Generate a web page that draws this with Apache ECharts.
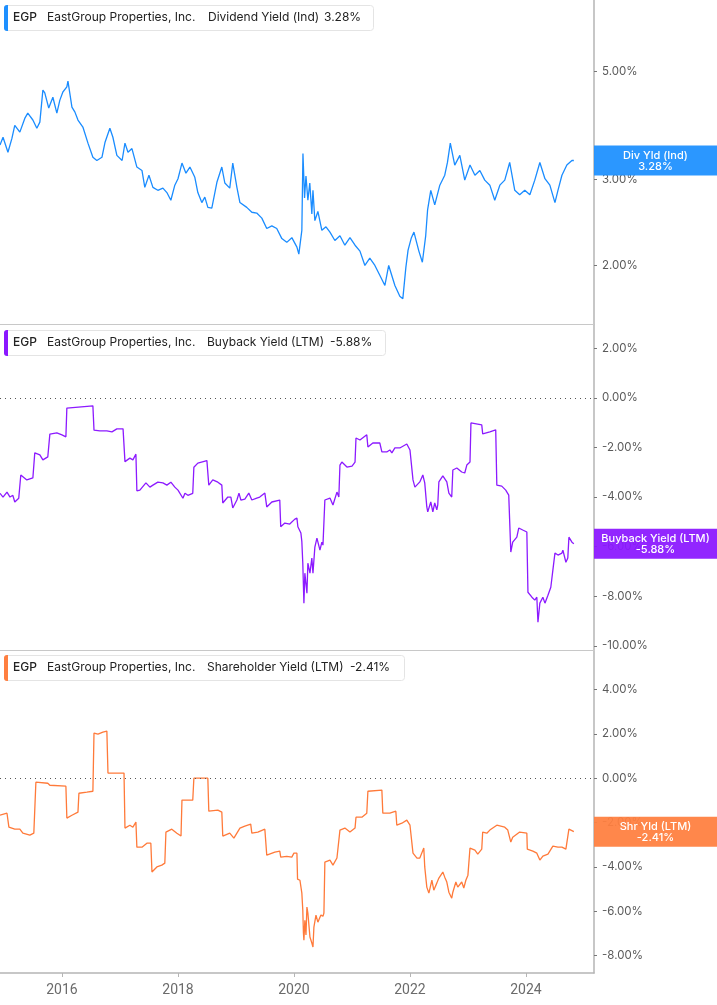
<!DOCTYPE html>
<html><head><meta charset="utf-8">
<script src="https://cdn.jsdelivr.net/npm/echarts@6/dist/echarts.min.js"></script>
<style>html,body{margin:0;padding:0;background:#fff}#c{width:717px;height:1005px}</style>
</head><body><div id="c"></div>
<script>
// ---------- DATA ----------
const divDates = ['2014-12-07','2014-12-26','2015-01-26','2015-02-20','2015-03-10','2015-04-11','2015-05-12','2015-05-31','2015-07-02','2015-07-27','2015-08-15','2015-09-03','2015-09-15','2015-10-10','2015-11-05','2015-11-30','2015-12-19','2016-01-07','2016-02-01','2016-02-08','2016-03-04','2016-03-23','2016-04-11','2016-05-12','2016-06-13','2016-07-14','2016-08-08','2016-09-09','2016-09-28','2016-10-29','2016-11-17','2016-12-12','2017-01-14','2017-02-01','2017-02-20','2017-03-17','2017-04-17','2017-05-19','2017-06-06','2017-07-02','2017-07-27','2017-08-27','2017-09-28','2017-10-23','2017-11-17','2017-12-12','2018-01-01','2018-01-26','2018-02-20','2018-03-17','2018-04-17','2018-05-06','2018-05-31','2018-06-19','2018-07-08','2018-08-02','2018-09-03','2018-10-04','2018-10-23','2018-11-23','2018-12-12','2019-01-07','2019-01-26','2019-03-10','2019-04-11','2019-05-12','2019-06-13','2019-07-14','2019-08-15','2019-09-15','2019-10-17','2019-11-17','2019-12-19','2020-01-20','2020-02-01','2020-02-20','2020-02-27','2020-03-08','2020-03-17','2020-03-29','2020-04-10','2020-04-23','2020-04-30','2020-05-12','2020-05-31','2020-06-25','2020-07-21','2020-08-15','2020-09-15','2020-10-17','2020-11-17','2020-12-19','2021-01-20','2021-02-20','2021-03-23','2021-04-23','2021-05-25','2021-06-25','2021-07-27','2021-08-20','2021-09-28','2021-10-29','2021-11-17','2021-12-06','2021-12-20','2022-01-10','2022-01-26','2022-02-26','2022-03-20','2022-04-10','2022-04-22','2022-05-12','2022-06-06','2022-07-08','2022-08-08','2022-08-25','2022-09-12','2022-10-10','2022-11-11','2022-12-12','2023-01-14','2023-02-14','2023-03-17','2023-04-17','2023-05-19','2023-06-19','2023-07-21','2023-08-21','2023-09-21','2023-10-23','2023-11-23','2023-12-25','2024-01-26','2024-02-26','2024-03-29','2024-04-30','2024-05-31','2024-07-02','2024-07-21','2024-08-15','2024-09-15','2024-10-17','2024-10-29'];
const divValues = [3.53,3.66,3.41,3.64,3.87,3.75,4.00,4.10,3.97,3.82,3.93,4.57,4.51,4.20,4.42,4.10,4.36,4.53,4.64,4.77,4.22,4.12,3.97,3.84,3.56,3.33,3.28,3.33,3.57,3.82,3.66,3.36,3.28,3.56,3.41,3.47,3.18,3.13,2.89,3.06,2.89,2.85,2.88,2.82,2.72,2.92,3.01,3.24,3.09,3.18,3.03,2.82,2.69,2.76,2.63,2.62,2.96,3.18,2.95,2.88,3.24,2.89,2.69,2.63,2.57,2.56,2.50,2.38,2.41,2.38,2.27,2.23,2.28,2.18,2.11,2.36,3.39,2.75,3.05,2.72,2.95,2.55,2.85,2.47,2.58,2.36,2.40,2.34,2.25,2.30,2.20,2.28,2.20,2.14,2.00,2.07,2.00,1.91,1.82,2.00,1.82,1.73,1.71,1.98,2.15,2.28,2.34,2.14,2.03,2.30,2.60,2.85,2.66,2.92,3.06,3.25,3.56,3.21,3.36,2.99,3.21,3.06,3.13,2.99,2.92,2.72,2.92,2.99,3.25,2.85,2.79,2.85,2.79,2.99,3.25,3.01,2.92,2.69,2.85,3.06,3.21,3.28,3.28];

const bbDates = ['2014-12-07','2014-12-26','2015-01-20','2015-02-08','2015-02-26','2015-03-10','2015-04-04','2015-04-17','2015-05-25','2015-07-02','2015-07-14','2015-08-15','2015-09-03','2015-10-04','2015-10-17','2015-11-30','2016-01-01','2016-01-26','2016-02-01','2016-07-14','2016-07-21','2016-08-27','2016-10-10','2016-11-11','2016-12-12','2017-01-20','2017-02-01','2017-03-04','2017-03-23','2017-04-11','2017-04-17','2017-05-06','2017-06-13','2017-07-08','2017-07-27','2017-08-27','2017-09-28','2017-10-23','2017-11-17','2017-12-12','2018-01-01','2018-02-01','2018-02-14','2018-03-04','2018-04-04','2018-04-11','2018-05-06','2018-07-02','2018-07-14','2018-08-08','2018-09-09','2018-10-04','2018-10-10','2018-11-11','2018-11-30','2018-12-12','2019-01-07','2019-01-20','2019-02-01','2019-02-26','2019-03-23','2019-04-11','2019-05-12','2019-05-31','2019-07-02','2019-07-14','2019-08-15','2019-10-04','2019-10-10','2019-11-05','2019-12-06','2020-01-07','2020-01-20','2020-01-26','2020-02-14','2020-02-20','2020-02-26','2020-03-04','2020-03-10','2020-03-23','2020-03-29','2020-04-11','2020-04-23','2020-04-30','2020-05-12','2020-05-25','2020-06-13','2020-06-25','2020-07-02','2020-07-14','2020-08-15','2020-09-03','2020-09-28','2020-10-10','2020-10-17','2020-10-29','2020-11-30','2021-01-01','2021-01-20','2021-01-26','2021-02-20','2021-04-04','2021-04-11','2021-05-12','2021-06-25','2021-07-08','2021-08-08','2021-08-27','2021-09-09','2021-09-28','2021-10-29','2021-12-12','2022-01-01','2022-01-20','2022-02-01','2022-03-04','2022-03-23','2022-04-04','2022-04-17','2022-04-23','2022-05-12','2022-05-25','2022-06-06','2022-06-19','2022-06-25','2022-07-02','2022-07-27','2022-08-21','2022-09-03','2022-09-21','2022-09-28','2022-10-23','2022-11-23','2022-12-12','2022-12-25','2023-01-14','2023-01-20','2023-03-29','2023-04-04','2023-05-19','2023-06-25','2023-07-02','2023-08-02','2023-08-27','2023-09-15','2023-09-28','2023-10-10','2023-11-05','2023-11-17','2023-12-12','2024-01-07','2024-01-14','2024-02-08','2024-02-26','2024-03-10','2024-03-17','2024-03-29','2024-04-17','2024-04-30','2024-05-19','2024-06-06','2024-06-19','2024-07-02','2024-07-21','2024-08-15','2024-08-21','2024-09-09','2024-09-21','2024-09-28','2024-10-17','2024-10-29'];
const bbValues = [-3.85,-4.0,-3.8,-4.0,-3.93,-4.2,-4.05,-3.11,-3.31,-3.23,-2.22,-2.3,-2.5,-2.38,-1.46,-1.41,-1.49,-1.57,-0.41,-0.32,-1.3,-1.33,-1.33,-1.37,-1.25,-1.25,-2.57,-2.43,-2.5,-2.27,-3.75,-3.72,-3.43,-3.6,-3.52,-3.4,-3.43,-3.52,-3.4,-3.6,-3.72,-4.05,-3.85,-3.93,-3.85,-2.8,-2.63,-2.53,-3.52,-3.31,-3.4,-3.52,-4.24,-4.0,-4.0,-4.44,-4.12,-3.84,-4.12,-4.08,-3.84,-4.12,-4.04,-4.0,-3.84,-4.4,-4.2,-4.12,-5.2,-5.05,-5.09,-4.89,-4.85,-5.2,-5.45,-5.8,-6.67,-8.28,-7.07,-7.88,-6.67,-7.07,-6.46,-7.07,-6.02,-5.66,-6.14,-5.82,-5.94,-4.12,-4.04,-4.32,-3.8,-4.0,-2.71,-2.59,-2.79,-2.75,-2.59,-1.62,-1.7,-1.49,-1.98,-1.82,-1.82,-2.18,-2.18,-2.1,-2.22,-2.02,-2.02,-1.86,-2.1,-3.31,-3.6,-3.39,-3.11,-3.43,-4.4,-4.6,-4.2,-4.6,-4.24,-4.52,-4.32,-3.39,-3.15,-3.39,-3.84,-4.0,-2.91,-2.83,-2.99,-3.03,-2.71,-2.59,-1.01,-1.09,-1.45,-1.37,-1.29,-3.52,-3.56,-3.72,-3.92,-6.22,-5.82,-5.62,-5.25,-5.33,-5.41,-7.84,-8.04,-8.16,-8.04,-9.05,-8.28,-8.04,-8.28,-7.96,-7.64,-6.95,-6.26,-6.34,-6.26,-6.14,-6.63,-6.46,-5.62,-5.82,-5.88];

const shDates = ['2014-12-07','2015-01-20','2015-01-26','2015-02-01','2015-03-10','2015-04-11','2015-04-30','2015-06-13','2015-07-08','2015-07-21','2015-10-04','2015-10-17','2016-01-26','2016-02-01','2016-03-04','2016-04-11','2016-04-17','2016-06-06','2016-07-14','2016-07-21','2016-08-15','2016-09-15','2016-10-10','2016-10-17','2017-01-26','2017-02-01','2017-03-04','2017-03-23','2017-04-11','2017-04-17','2017-05-19','2017-06-19','2017-07-14','2017-07-21','2017-08-21','2017-09-21','2017-10-10','2017-10-17','2017-11-23','2017-12-25','2018-01-20','2018-01-26','2018-04-04','2018-04-11','2018-07-08','2018-07-14','2018-09-09','2018-10-04','2018-10-10','2018-11-23','2018-12-19','2019-01-26','2019-02-26','2019-04-04','2019-04-11','2019-05-19','2019-07-02','2019-07-14','2019-09-03','2019-10-04','2019-10-10','2019-11-17','2019-12-19','2020-01-01','2020-01-20','2020-01-24','2020-02-08','2020-02-20','2020-02-26','2020-03-01','2020-03-04','2020-03-10','2020-03-17','2020-03-23','2020-03-29','2020-04-11','2020-04-23','2020-04-30','2020-05-06','2020-05-19','2020-05-31','2020-06-19','2020-07-02','2020-07-08','2020-07-14','2020-08-15','2020-09-03','2020-09-28','2020-10-10','2020-10-17','2020-11-17','2020-12-19','2021-01-20','2021-01-26','2021-03-04','2021-04-04','2021-04-11','2021-07-08','2021-07-14','2021-08-27','2021-10-04','2021-10-10','2021-11-11','2021-12-12','2022-01-01','2022-01-20','2022-02-14','2022-03-04','2022-03-29','2022-04-04','2022-04-17','2022-04-30','2022-05-19','2022-05-31','2022-06-19','2022-07-02','2022-07-27','2022-08-08','2022-08-21','2022-09-03','2022-09-21','2022-09-28','2022-10-17','2022-10-29','2022-11-23','2022-12-06','2022-12-19','2023-01-01','2023-01-14','2023-02-14','2023-03-04','2023-03-29','2023-04-04','2023-04-30','2023-05-19','2023-07-02','2023-08-21','2023-09-09','2023-09-28','2023-10-10','2023-11-23','2024-01-07','2024-01-10','2024-02-14','2024-03-10','2024-03-29','2024-04-17','2024-05-19','2024-06-19','2024-07-21','2024-08-15','2024-09-09','2024-09-21','2024-09-28','2024-10-29'];
const shValues = [-1.67,-1.58,-1.6,-2.21,-2.3,-2.3,-2.48,-2.57,-2.48,-0.18,-0.23,-0.32,-0.36,-1.8,-1.67,-1.53,-0.68,-0.63,-0.59,2.03,1.98,2.07,2.12,0.23,0.23,-2.25,-2.12,-2.21,-1.98,-3.11,-3.11,-2.93,-2.93,-4.23,-4.0,-3.92,-3.83,-2.43,-2.3,-2.48,-2.61,-0.99,-0.99,0.0,0.0,-1.49,-1.44,-1.53,-2.61,-2.48,-2.7,-2.25,-2.16,-2.07,-2.48,-2.43,-2.3,-3.47,-3.33,-3.29,-3.56,-3.52,-3.56,-3.38,-3.38,-4.55,-4.6,-5.18,-5.95,-6.98,-7.3,-6.4,-7.07,-5.81,-6.08,-7.16,-7.43,-7.61,-6.71,-6.17,-6.49,-6.17,-6.22,-6.08,-3.78,-3.69,-3.92,-3.6,-3.69,-2.34,-2.25,-2.43,-2.25,-1.76,-1.76,-1.58,-0.59,-0.54,-1.58,-1.58,-1.49,-2.12,-2.03,-1.89,-2.12,-3.38,-3.6,-3.6,-3.15,-4.0,-4.91,-5.18,-4.6,-5.05,-4.73,-4.5,-4.23,-4.46,-4.68,-5.14,-5.41,-5.14,-4.68,-4.91,-4.68,-4.95,-4.6,-4.37,-3.15,-3.24,-3.42,-3.2,-2.43,-2.48,-2.34,-2.12,-2.21,-2.34,-2.88,-2.66,-2.43,-2.48,-3.2,-3.29,-3.38,-3.69,-3.51,-3.42,-3.06,-3.11,-3.11,-3.2,-3.2,-2.3,-2.41];

const xTickYears = ['2016','2018','2020','2022','2024'];
const divTicks = [2, 3, 5];
const bbTicks = [-10, -8, -6, -4, -2, 0, 2];
const shTicks = [-8, -6, -4, -2, 0, 2, 4];
const ticker = 'EGP';
const company = 'EastGroup Properties, Inc.';
const seriesNames = ['Dividend Yield (Ind)', 'Buyback Yield (LTM)', 'Shareholder Yield (LTM)'];
const tagNames = ['Div Yld (Ind)', 'Buyback Yield (LTM)', 'Shr Yld (LTM)'];

// ---------- CHART ----------
const colors = ['#1a8cff', '#8c1aff', '#ff7a3a'];
const tagColors = ['#1e90ff', '#8b18ff', '#ff7f40'];
const FONT = 'Inter, "Liberation Sans", sans-serif';
const ts = d => echarts.time.parse(d).getTime();
const X_MIN = ts('2014-12-07'), X_MAX = ts('2025-03-05');
const xTickDates = xTickYears.map(y => ts(y + '-01-01'));
const grids = [
  {left: 0, right: 123, top: 0, height: 324.5},
  {left: 0, right: 123, top: 325, height: 325},
  {left: 0, right: 123, top: 651, height: 322}
];
const axisLineStyle = {color: '#b5b5b5', width: 1.5};
function xAxis(i) {
  const last = i === 2;
  return {
    type: 'value', gridIndex: i, min: X_MIN, max: X_MAX,
    axisLine: {show: true, onZero: false, lineStyle: last ? axisLineStyle : {color: '#c8c8c8', width: 1.2}},
    axisTick: {show: last, length: 4, lineStyle: {color: '#b5b5b5'}, customValues: xTickDates},
    axisLabel: {show: last, customValues: xTickDates, color: '#6b6b6b', fontFamily: '"Liberation Sans Narrow", Roboto, sans-serif', fontSize: 14, margin: 10,
      formatter: v => String(new Date(v).getFullYear())},
    splitLine: {show: false}
  };
}
function yAxis(i, ticks, min, max, type) {
  return {
    type: type, gridIndex: i, position: 'right', min: min, max: max, logBase: 10,
    axisLine: {show: true, onZero: false, lineStyle: axisLineStyle},
    axisTick: {show: true, length: 3, inside: false, lineStyle: {color: '#777'}, customValues: ticks},
    axisLabel: {show: true, customValues: ticks, color: '#5a5a5a', fontFamily: FONT, fontSize: 11.5, margin: 8,
      formatter: v => Number(v).toFixed(2) + '%'},
    splitLine: {show: false}
  };
}
const zeroLine = {silent: true, symbol: 'none', label: {show: false},
  lineStyle: {color: '#555', type: [1, 4], width: 1}, data: [{yAxis: 0}]};
function lineSeries(i, dates, values, mark) {
  const s = {
    type: 'line', xAxisIndex: i, yAxisIndex: i, showSymbol: false, sampling: 'none',
    data: dates.map((d, k) => [ts(d), values[k]]),
    lineStyle: {color: colors[i], width: 1.3}, itemStyle: {color: colors[i]}
  };
  if (mark) s.markLine = zeroLine;
  return s;
}
const chart = echarts.init(document.getElementById('c'), null, {renderer: 'canvas'});
chart.setOption({
  animation: false,
  grid: grids,
  xAxis: [xAxis(0), xAxis(1), xAxis(2)],
  yAxis: [yAxis(0, divTicks, 1.514, 6.99, 'log'), yAxis(1, bbTicks, -10.17, 2.94, 'value'), yAxis(2, shTicks, -8.78, 5.73, 'value')],
  series: [lineSeries(0, divDates, divValues, false), lineSeries(1, bbDates, bbValues, true), lineSeries(2, shDates, shValues, true)]
});

// legends and last-value tags
const lastVals = [divValues[divValues.length - 1], bbValues[bbValues.length - 1], shValues[shValues.length - 1]];
const legendTops = [5, 330, 655];
const legendWidths = [369, 381, 400];
const nameX = [208, 207, 207];
const valX = [324, 330, 350];
const graphics = [];
const axisX = chart.convertToPixel({xAxisIndex: 0}, X_MAX);
const ON_TOP = {zlevel: 1, z: 100};
for (let i = 0; i < 3; i++) {
  const t = legendTops[i];
  const txt = (s, x, w) => Object.assign({type: 'text', x: x, y: t + 12.5, style: {text: s, fill: '#222', font: (w || 'normal') + ' 12px ' + FONT, verticalAlign: 'middle'}}, ON_TOP);
  graphics.push(Object.assign({type: 'rect', shape: {x: 4.5, y: t + 0.5, width: legendWidths[i], height: 25, r: 3}, style: {fill: '#fff', stroke: '#e4e4e4', lineWidth: 1}}, ON_TOP));
  graphics.push(Object.assign({type: 'rect', shape: {x: 4, y: t, width: 4, height: 26, r: [3, 0, 0, 3]}, style: {fill: tagColors[i]}}, ON_TOP));
  graphics.push(txt(ticker, 13, '500'), txt(company, 47), txt(seriesNames[i], nameX[i]), txt(lastVals[i].toFixed(2) + '%', valX[i]));
  const py = chart.convertToPixel({yAxisIndex: i}, lastVals[i]);
  const cx = axisX + (717 - axisX) / 2;
  graphics.push(Object.assign({type: 'rect', shape: {x: axisX, y: py - 15, width: 717 - axisX, height: 30}, style: {fill: tagColors[i], opacity: 0.94}}, ON_TOP));
  graphics.push(Object.assign({type: 'text', x: cx, y: py - 5, style: {text: tagNames[i], fill: '#fff', font: '500 11px ' + FONT, align: 'center', verticalAlign: 'middle'}}, ON_TOP, {z: 101}));
  graphics.push(Object.assign({type: 'text', x: cx, y: py + 6, style: {text: lastVals[i].toFixed(2) + '%', fill: '#fff', font: '500 11px ' + FONT, align: 'center', verticalAlign: 'middle'}}, ON_TOP, {z: 101}));
}
chart.setOption({graphic: graphics});
</script>
</body></html>
